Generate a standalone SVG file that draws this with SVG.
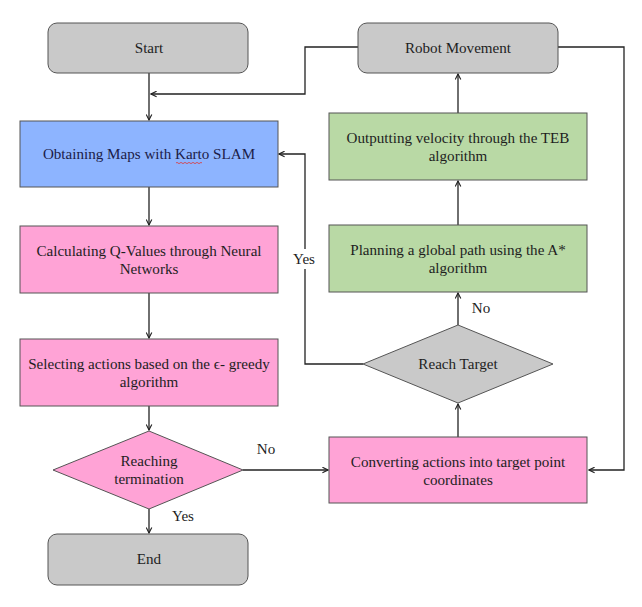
<svg xmlns="http://www.w3.org/2000/svg" width="642" height="607" viewBox="0 0 642 607" font-family="Liberation Serif, Times New Roman, serif">
<style>
text{font-size:15.1px;fill:#1e1e1e;text-anchor:middle;dominant-baseline:central}
.gray{fill:#c9c9c9;stroke:#555;stroke-width:1}
.blue{fill:#8db4ff;stroke:#555;stroke-width:1}
.pink{fill:#ffa3d6;stroke:#555;stroke-width:1}
.green{fill:#b9d9a5;stroke:#555;stroke-width:1}
.c{fill:none;stroke:#222;stroke-width:1.3}
</style>
<defs>
<marker id="a" viewBox="0 0 10 10" refX="9" refY="5" markerWidth="7" markerHeight="7" markerUnits="userSpaceOnUse" orient="auto">
<polyline points="1,1 9,5 1,9" fill="none" stroke="#222" stroke-width="1.6"/>
</marker>
</defs>
<g id="connectors">
<path class="c" d="M149,73 V120" marker-end="url(#a)"/>
<path class="c" d="M358,47 H305 V94 H151" marker-end="url(#a)"/>
<path class="c" d="M149,187 V225" marker-end="url(#a)"/>
<path class="c" d="M149,293 V338" marker-end="url(#a)"/>
<path class="c" d="M149,406 V430" marker-end="url(#a)"/>
<path class="c" d="M149,509 V533" marker-end="url(#a)"/>
<path class="c" d="M243,470 H328" marker-end="url(#a)"/>
<path class="c" d="M458,437 V404" marker-end="url(#a)"/>
<path class="c" d="M458,325 V293" marker-end="url(#a)"/>
<path class="c" d="M458,225 V181" marker-end="url(#a)"/>
<path class="c" d="M458,113 V74" marker-end="url(#a)"/>
<path class="c" d="M558,47 H624 V470 H589" marker-end="url(#a)"/>
<path class="c" d="M363,364 H305 V269 M305,249 V154 H279" marker-end="url(#a)"/>
<text x="266" y="449">No</text>
<text x="183" y="516">Yes</text>
<text x="481" y="308">No</text>
<text x="304" y="259">Yes</text>
</g>
<g id="start">
<rect class="gray" x="48" y="23" width="200" height="50" rx="9"/>
<text x="149" y="48">Start</text>
</g>
<g id="obtaining">
<rect class="blue" x="20" y="121" width="258" height="66"/>
<text x="149" y="154" style="fill:#1c1c48">Obtaining Maps with Karto SLAM</text>
<path d="M176,163 q1,-1.2 2,0 t2,0 t2,0 t2,0 t2,0 t2,0 t2,0 t2,0 t2,0 t2,0 t2,0 t2,0 t2,0" fill="none" stroke="#d33" stroke-width="0.8"/>
</g>
<g id="calculating">
<rect class="pink" x="20" y="226" width="258" height="67"/>
<text x="149" y="251">Calculating Q-Values through Neural</text>
<text x="149" y="269">Networks</text>
</g>
<g id="selecting">
<rect class="pink" x="20" y="339" width="258" height="67"/>
<text x="149" y="364">Selecting actions based on the ϵ- greedy</text>
<text x="149" y="382">algorithm</text>
</g>
<g id="reaching">
<polygon class="pink" points="149,431 243,470 149,509 53,470"/>
<text x="149" y="461">Reaching</text>
<text x="149" y="479">termination</text>
</g>
<g id="end">
<rect class="gray" x="48" y="534" width="200" height="51" rx="9"/>
<text x="149" y="559">End</text>
</g>
<g id="robot">
<rect class="gray" x="358" y="23" width="200" height="50" rx="9"/>
<text x="458" y="48">Robot Movement</text>
</g>
<g id="outputting">
<rect class="green" x="329" y="113" width="258" height="67"/>
<text x="458" y="138">Outputting velocity through the TEB</text>
<text x="458" y="156">algorithm</text>
</g>
<g id="planning">
<rect class="green" x="329" y="225" width="258" height="67"/>
<text x="458" y="250">Planning a global path using the A*</text>
<text x="458" y="268">algorithm</text>
</g>
<g id="reach">
<polygon class="gray" points="458,325 553,364 458,403 363,364"/>
<text x="458" y="364">Reach Target</text>
</g>
<g id="converting">
<rect class="pink" x="329" y="437" width="258" height="66"/>
<text x="458" y="462">Converting actions into target point</text>
<text x="458" y="480">coordinates</text>
</g>
</svg>
